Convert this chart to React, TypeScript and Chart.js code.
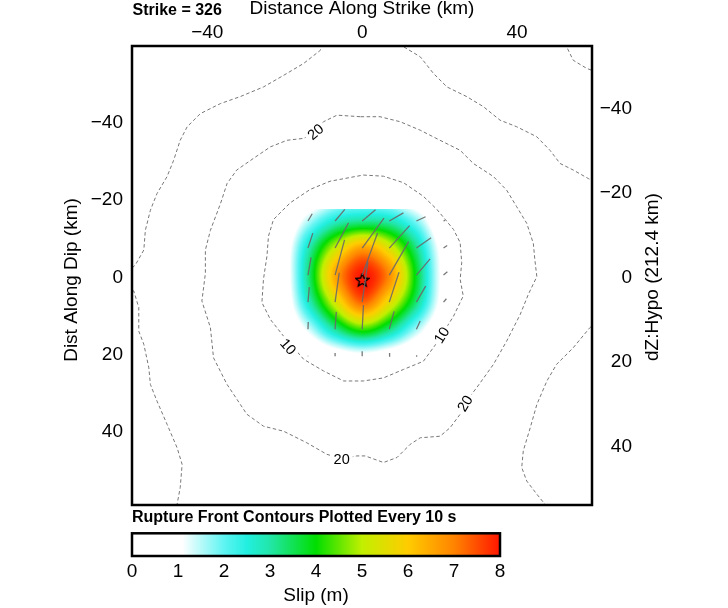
import React, { useEffect, useRef } from 'react';
import { Chart, registerables } from 'chart.js';

Chart.register(...registerables);

// ---------- axes ----------
const X_RANGE = [-59.45, 59.35];
const DIP_RANGE = [-59.9, 58.9];
const DEPTH_RANGE = [-54.8, 53.8];
const X_TICKS = [-40, 0, 40];
const DIP_TICKS = [-40, -20, 0, 20, 40];
const DEPTH_TICKS = [-40, -20, 0, 20, 40];
const SLIP_TICKS = [0, 1, 2, 3, 4, 5, 6, 7, 8];

// ---------- slip distribution (m) on subfault nodes (km) ----------
const SLIP_X = [-21, -14, -7, 0, 7, 14, 21];
const SLIP_Y = [-21.6, -14.6, -7.6, -0.6, 6.4, 13.4, 20.4];
const SLIP: number[][] = [
  [0.0, 0.2, 1.0, 1.3, 1.0, 0.3, 0.0],
  [0.1, 1.5, 2.7, 3.1, 2.9, 1.8, 0.3],
  [0.4, 2.8, 5.1, 6.6, 5.4, 3.2, 0.8],
  [0.4, 3.2, 6.5, 8.0, 6.9, 3.8, 0.9],
  [0.3, 2.7, 5.3, 7.3, 5.6, 3.3, 0.8],
  [0.1, 1.3, 3.1, 4.3, 3.3, 1.6, 0.3],
  [0.0, 0.1, 0.6, 0.9, 0.6, 0.2, 0.0],
];
const FAULT_X = [-24.5, 24.5];
const FAULT_Y = [-17.6, 23.9];

// rake (deg) for nodes SLIP_Y[1..6] x SLIP_X[1..6]
const RAKE: number[][] = [
  [60, 50, 40, 30, 25, 25],
  [72, 62, 54, 48, 35, 35],
  [80, 75, 70, 60, 50, 40],
  [85, 82, 82, 72, 60, 50],
  [88, 86, 87, 75, 65, 60],
  [90, 90, 90, 85, 80, 80],
];
const VECTOR_KM_PER_M = 1.45;

const HYPO = { x: 0, y: 0.8 };

// ---------- colour scale ----------
const SLIP_STOPS = [0, 1.1, 2, 2.5, 3, 4, 5, 6, 7, 8];
const STOP_COLORS = ['#ffffff', '#ffffff', '#5ef4f2', '#22efe0', '#22e6a8', '#00de00', '#c2ef00', '#ffcc00', '#ff8400', '#ff1600'];

// ---------- rupture-front contours (km) ----------
const CONTOUR_10: number[][] = [
  [0.3, -26.5], [5.5, -26.2], [10.7, -24.5], [15.8, -21.0], [19.3, -17.6], [23.6, -12.4], [25.3, -9.0],
  [25.7, -3.8], [25.3, 0.5], [26.1, 4.8], [23.6, 10.0], [19.3, 16.9], [15.8, 21.7], [10.7, 23.8],
  [5.5, 26.0], [0.3, 26.8], [-4.8, 26.8], [-10.0, 24.2], [-15.1, 21.2], [-20.3, 15.2], [-23.7, 10.9],
  [-25.9, 6.5], [-25.5, 0.5], [-24.6, -5.5], [-24.2, -10.7], [-22.9, -15.0], [-18.6, -19.3],
  [-13.4, -22.8], [-8.3, -24.9], [0.3, -26.5],
];
const CONTOUR_20: number[][] = [
  [-0.5, -41.6], [-6.5, -42.0], [-10.0, -40.3], [-12.1, -37.7], [-15.1, -36.0], [-19.4, -35.5],
  [-23.7, -33.8], [-28.1, -30.8], [-32.4, -27.8], [-34.9, -24.3], [-36.6, -19.1], [-39.2, -12.2],
  [-40.5, -7.1], [-40.5, -1.0], [-41.4, 6.1], [-39.2, 13.0], [-38.4, 20.8], [-34.9, 27.7],
  [-29.8, 35.4], [-25.5, 38.5], [-20.3, 39.8], [-14.3, 42.8], [-9.1, 45.8], [-5.2, 46.9],
  [-1.4, 46.2], [0.8, 46.2], [5.5, 47.9], [9.0, 46.6], [12.4, 43.2], [15.0, 41.5], [20.1, 41.1],
  [22.7, 38.9], [25.3, 35.4], [26.6, 32.4], [29.6, 28.5], [33.9, 22.5], [37.3, 16.5], [40.8, 9.6],
  [42.9, 4.4], [45.1, -0.2], [44.6, -4.5], [44.2, -8.8], [42.5, -14.0], [39.9, -18.3], [37.3, -22.6],
  [33.9, -26.1], [28.7, -29.5], [25.3, -32.9], [20.1, -35.5], [15.0, -38.1], [9.8, -40.3],
  [4.6, -41.6], [-0.5, -41.6],
];
const CONTOUR_30: number[][] = [
  [-10.3, -62.1], [-10.8, -58.8], [-15.1, -55.4], [-20.3, -52.3], [-25.5, -49.3], [-31.5, -46.8],
  [-36.6, -45.0], [-41.8, -42.4], [-45.2, -39.0], [-47.0, -35.5], [-48.7, -30.3], [-50.4, -26.1],
  [-53.0, -21.7], [-54.7, -17.4], [-56.0, -12.2], [-56.4, -7.1], [-58.6, -3.2], [-60.4, -1.6],
  [-60.4, 2.6], [-59.0, 3.5], [-57.7, 7.8], [-57.7, 13.9], [-56.4, 17.3], [-55.1, 23.4], [-54.7, 27.7],
  [-53.0, 32.0], [-50.4, 38.0], [-47.8, 44.1], [-46.5, 48.4], [-47.0, 54.4], [-47.8, 58.7],
  [-48.3, 61.3], [-0.5, 65.2], [48.5, 61.3], [47.2, 58.7], [45.1, 56.1], [42.5, 52.7], [41.2, 49.2],
  [41.6, 44.9], [43.4, 38.9], [45.1, 32.9], [47.7, 26.8], [50.2, 22.5], [54.5, 18.2], [58.8, 13.0],
  [61.4, 10.9], [61.4, -24.1], [58.4, -25.6], [54.5, -27.8], [51.1, -29.5], [48.5, -32.9],
  [45.1, -36.4], [39.9, -39.0], [35.6, -40.7], [31.3, -44.2], [27.0, -46.8], [21.9, -49.3],
  [18.4, -52.8], [15.0, -57.1], [10.7, -59.7], [9.3, -62.1], [-0.5, -64.2], [-10.3, -62.1],
];
const CONTOUR_40: number[][] = [
  [51.9, -62.1], [52.8, -59.7], [54.5, -56.2], [58.0, -54.1], [60.9, -53.0],
];

const LABEL_TEXT = ['20', '10', '10', '20', '20'];
const LABEL_X = [-12.1, -19.1, 20.5, 26.5, -5.3];
const LABEL_Y = [-37.7, 17.9, 14.9, 32.6, 47.1];
const LABEL_ANGLE = [-40, 49, -58, -60, 0];

// ---------- helpers ----------
const FONT = "'Liberation Sans', Arial, Helvetica, sans-serif";
Chart.defaults.font.family = FONT;
Chart.defaults.color = '#000';

const fmt = (v: number) => (v < 0 ? '\u2212' + Math.abs(v) : String(v));
const toPts = (arr: number[][]) => arr.map(([x, y]) => ({ x, y }));
const clamp = (v: number, a: number, b: number) => Math.max(a, Math.min(b, v));
const noPad = (s: any) => {
  s.paddingTop = 0;
  s.paddingBottom = 0;
  s.paddingLeft = 0;
  s.paddingRight = 0;
};

function cr(p0: number, p1: number, p2: number, p3: number, t: number) {
  return 0.5 * (2 * p1 + (-p0 + p2) * t + (2 * p0 - 5 * p1 + 4 * p2 - p3) * t * t + (-p0 + 3 * p1 - 3 * p2 + p3) * t * t * t);
}

function sampleSlip(xv: number, yv: number) {
  const nx = SLIP_X.length, ny = SLIP_Y.length;
  const fx = (xv - SLIP_X[0]) / (SLIP_X[1] - SLIP_X[0]);
  const fy = (yv - SLIP_Y[0]) / (SLIP_Y[1] - SLIP_Y[0]);
  const ix = Math.floor(fx), iy = Math.floor(fy);
  const tx = fx - ix, ty = fy - iy;
  const g = (r: number, c: number) => SLIP[clamp(r, 0, ny - 1)][clamp(c, 0, nx - 1)];
  const rows: number[] = [];
  for (let m = -1; m <= 2; m++) {
    rows.push(cr(g(iy + m, ix - 1), g(iy + m, ix), g(iy + m, ix + 1), g(iy + m, ix + 2), tx));
  }
  return cr(rows[0], rows[1], rows[2], rows[3], ty);
}

function hexRgb(h: string) {
  return [parseInt(h.slice(1, 3), 16), parseInt(h.slice(3, 5), 16), parseInt(h.slice(5, 7), 16)];
}
const STOP_RGB = STOP_COLORS.map(hexRgb);

function colorFor(v: number) {
  if (v <= SLIP_STOPS[0]) return STOP_RGB[0];
  for (let i = 1; i < SLIP_STOPS.length; i++) {
    if (v <= SLIP_STOPS[i]) {
      const t = (v - SLIP_STOPS[i - 1]) / (SLIP_STOPS[i] - SLIP_STOPS[i - 1]);
      const a = STOP_RGB[i - 1], b = STOP_RGB[i];
      return [a[0] + (b[0] - a[0]) * t, a[1] + (b[1] - a[1]) * t, a[2] + (b[2] - a[2]) * t];
    }
  }
  return STOP_RGB[STOP_RGB.length - 1];
}

function makeStar(size: number) {
  const c = document.createElement('canvas');
  c.width = size;
  c.height = size;
  const g = c.getContext('2d')!;
  g.beginPath();
  for (let k = 0; k < 10; k++) {
    const r = k % 2 ? size * 0.2 : size * 0.45;
    const a = -Math.PI / 2 + (k * Math.PI) / 5;
    g.lineTo(size / 2 + r * Math.cos(a), size / 2 + r * Math.sin(a));
  }
  g.closePath();
  g.lineWidth = 1.4;
  g.strokeStyle = '#000';
  g.stroke();
  return c;
}

function vectorPoints() {
  const pts: { x: number; y: number }[] = [];
  for (let j = 1; j < SLIP_Y.length; j++) {
    for (let i = 1; i < SLIP_X.length; i++) {
      const s = SLIP[j][i] * VECTOR_KM_PER_M;
      const a = (RAKE[j - 1][i - 1] * Math.PI) / 180;
      const x0 = SLIP_X[i], y0 = SLIP_Y[j];
      pts.push({ x: x0, y: y0 });
      pts.push({ x: x0 + s * Math.cos(a), y: y0 - s * Math.sin(a) });
      pts.push({ x: NaN, y: NaN });
    }
  }
  return pts;
}

// ---------- plugins ----------
const slipFieldPlugin = {
  id: 'slipField',
  beforeDatasetsDraw(chart: any) {
    const { ctx, chartArea, scales } = chart;
    const xs = scales.x, ys = scales.y;
    const px0 = Math.max(chartArea.left, Math.floor(xs.getPixelForValue(FAULT_X[0])));
    const px1 = Math.min(chartArea.right, Math.ceil(xs.getPixelForValue(FAULT_X[1])));
    const py0 = Math.max(chartArea.top, Math.floor(ys.getPixelForValue(FAULT_Y[0])));
    const py1 = Math.min(chartArea.bottom, Math.ceil(ys.getPixelForValue(FAULT_Y[1])));
    const w = px1 - px0, h = py1 - py0;
    if (w <= 0 || h <= 0) return;
    const off = document.createElement('canvas');
    off.width = w;
    off.height = h;
    const octx = off.getContext('2d')!;
    const img = octx.createImageData(w, h);
    for (let r = 0; r < h; r++) {
      const yv = ys.getValueForPixel(py0 + r + 0.5);
      for (let c = 0; c < w; c++) {
        const xv = xs.getValueForPixel(px0 + c + 0.5);
        const v = sampleSlip(xv, yv);
        const col = colorFor(v);
        const k = (r * w + c) * 4;
        img.data[k] = col[0];
        img.data[k + 1] = col[1];
        img.data[k + 2] = col[2];
        img.data[k + 3] = v < SLIP_STOPS[1] ? 0 : 255;
      }
    }
    octx.putImageData(img, 0, 0);
    ctx.save();
    ctx.drawImage(off, px0, py0);
    ctx.restore();
  },
};

const contourLabelPlugin = {
  id: 'contourLabels',
  afterDatasetsDraw(chart: any) {
    const { ctx, scales } = chart;
    ctx.save();
    ctx.font = `14.5px ${FONT}`;
    ctx.textAlign = 'center';
    ctx.textBaseline = 'middle';
    LABEL_TEXT.forEach((t, i) => {
      const px = scales.x.getPixelForValue(LABEL_X[i]);
      const py = scales.y.getPixelForValue(LABEL_Y[i]);
      ctx.save();
      ctx.translate(px, py);
      ctx.rotate((LABEL_ANGLE[i] * Math.PI) / 180);
      const w = ctx.measureText(t).width;
      ctx.fillStyle = '#fff';
      ctx.fillRect(-w / 2 - 3, -7, w + 6, 14);
      ctx.fillStyle = '#000';
      ctx.fillText(t, 0, 1);
      ctx.restore();
    });
    ctx.restore();
  },
};

const framePlugin = {
  id: 'frameTitles',
  afterDraw(chart: any) {
    const { ctx, chartArea } = chart;
    const { left, right, top, bottom } = chartArea;
    ctx.save();
    ctx.strokeStyle = '#000';
    ctx.lineWidth = 2.5;
    ctx.strokeRect(left, top, right - left, bottom - top);

    ctx.fillStyle = '#000';
    ctx.font = `19px ${FONT}`;
    ctx.textAlign = 'center';
    ctx.textBaseline = 'alphabetic';
    ctx.fillText('Distance Along Strike (km)', (left + right) / 2, 13.5);

    ctx.font = `bold 16px ${FONT}`;
    ctx.textAlign = 'left';
    ctx.fillText('Strike = 326', left + 0.5, 15);

    ctx.font = `19px ${FONT}`;
    ctx.textAlign = 'center';
    ctx.textBaseline = 'middle';
    ctx.save();
    ctx.translate(72, 280);
    ctx.rotate(-Math.PI / 2);
    ctx.fillText('Dist Along Dip (km)', 0, 0);
    ctx.restore();
    ctx.save();
    ctx.translate(653, 277);
    ctx.rotate(-Math.PI / 2);
    ctx.fillText('dZ:Hypo (212.4 km)', 0, 0);
    ctx.restore();
    ctx.restore();
  },
};

const colorbarPlugin = {
  id: 'colorbar',
  beforeDatasetsDraw(chart: any) {
    const { ctx, chartArea, scales } = chart;
    const { left, right, top, bottom } = chartArea;
    const grad = ctx.createLinearGradient(left, 0, right, 0);
    SLIP_STOPS.forEach((v, i) => {
      const p = (scales.x.getPixelForValue(v) - left) / (right - left);
      grad.addColorStop(clamp(p, 0, 1), STOP_COLORS[i]);
    });
    ctx.save();
    ctx.fillStyle = grad;
    ctx.fillRect(left, top, right - left, bottom - top);
    ctx.strokeStyle = '#000';
    ctx.lineWidth = 2.5;
    ctx.strokeRect(left, top, right - left, bottom - top);
    ctx.restore();
  },
};

const tickFont = { size: 19, family: FONT };

export default function App() {
  const mainRef = useRef<HTMLCanvasElement>(null);
  const barRef = useRef<HTMLCanvasElement>(null);

  useEffect(() => {
    const dash = {
      showLine: true,
      borderColor: '#777777',
      borderWidth: 1,
      borderDash: [3.5, 2.5],
      pointRadius: 0,
      fill: false,
      tension: 0,
    };
    const main = new Chart(mainRef.current!, {
      type: 'scatter',
      data: {
        datasets: [
          { label: '10 s', data: toPts(CONTOUR_10), ...dash },
          { label: '20 s', data: toPts(CONTOUR_20), ...dash },
          { label: '30 s', data: toPts(CONTOUR_30), ...dash },
          { label: '40 s', data: toPts(CONTOUR_40), ...dash },
          {
            label: 'slip vectors',
            data: vectorPoints(),
            showLine: true,
            spanGaps: false,
            borderColor: 'rgba(105,105,105,0.9)',
            borderWidth: 1.3,
            pointRadius: 0,
          },
          {
            label: 'hypocenter',
            data: [HYPO],
            showLine: false,
            pointStyle: makeStar(15),
            pointRadius: 7,
          },
        ] as any,
      },
      options: {
        responsive: false,
        animation: false,
        devicePixelRatio: 1,
        layout: { autoPadding: false, padding: { left: 0, right: 96, top: 0, bottom: 3 } },
        plugins: { legend: { display: false }, tooltip: { enabled: false } },
        events: [],
        scales: {
          x: {
            type: 'linear',
            position: 'top',
            min: X_RANGE[0],
            max: X_RANGE[1],
            grid: { display: false, drawTicks: false },
            border: { display: false },
            ticks: { font: tickFont, padding: 2, color: '#000', callback: (v: any) => fmt(Number(v)), maxRotation: 0 },
            afterBuildTicks: (s: any) => { s.ticks = X_TICKS.map((value) => ({ value })); },
            afterFit: (s: any) => { s.height = 46; noPad(s); },
          },
          y: {
            type: 'linear',
            position: 'left',
            reverse: true,
            min: DIP_RANGE[0],
            max: DIP_RANGE[1],
            grid: { display: false, drawTicks: false },
            border: { display: false },
            ticks: { font: tickFont, padding: 9, color: '#000', callback: (v: any) => fmt(Number(v)) },
            afterBuildTicks: (s: any) => { s.ticks = DIP_TICKS.map((value) => ({ value })); },
            afterFit: (s: any) => { s.width = 132; noPad(s); },
          },
          y2: {
            type: 'linear',
            position: 'right',
            reverse: true,
            min: DEPTH_RANGE[0],
            max: DEPTH_RANGE[1],
            grid: { display: false, drawTicks: false },
            border: { display: false },
            ticks: { font: tickFont, padding: 8, color: '#000', crossAlign: 'far', callback: (v: any) => fmt(Number(v)) },
            afterBuildTicks: (s: any) => { s.ticks = DEPTH_TICKS.map((value) => ({ value })); },
            afterFit: (s: any) => { s.width = 40; noPad(s); },
          },
        },
      } as any,
      plugins: [slipFieldPlugin, contourLabelPlugin, framePlugin],
    });

    const bar = new Chart(barRef.current!, {
      type: 'scatter',
      data: { datasets: [{ label: 'slip', data: [] }] },
      options: {
        responsive: false,
        animation: false,
        devicePixelRatio: 1,
        events: [],
        layout: { autoPadding: false, padding: { left: 132, right: 228, top: 0, bottom: 0 } },
        plugins: {
          legend: { display: false },
          tooltip: { enabled: false },
          title: {
            display: true,
            text: 'Rupture Front Contours Plotted Every 10 s',
            align: 'start',
            color: '#000',
            font: { size: 16, weight: 'bold', family: FONT },
            padding: { top: 0, bottom: 6.1 },
          },
        },
        scales: {
          x: {
            type: 'linear',
            position: 'bottom',
            min: SLIP_TICKS[0],
            max: SLIP_TICKS[SLIP_TICKS.length - 1],
            grid: { display: false, drawTicks: false },
            border: { display: false },
            ticks: { font: tickFont, padding: 4.3, color: '#000', maxRotation: 0 },
            afterBuildTicks: (s: any) => { s.ticks = SLIP_TICKS.map((value) => ({ value })); },
            title: { display: true, text: 'Slip (m)', font: tickFont, color: '#000', padding: { top: 0, bottom: 1 } },
            afterFit: (s: any) => { s.height = 52; noPad(s); },
          },
          y: { display: false, min: 0, max: 1 },
        },
      } as any,
      plugins: [colorbarPlugin],
    });

    return () => {
      main.destroy();
      bar.destroy();
    };
  }, []);

  return (
    <div style={{ position: 'fixed', left: 0, top: 0, width: 728, height: 608, background: '#fff', overflow: 'hidden' }}>
      <div style={{ position: 'absolute', left: 0, top: 0, width: 728, height: 508 }}>
        <canvas ref={mainRef} width={728} height={508} style={{ display: 'block' }} />
      </div>
      <div style={{ position: 'absolute', left: 0, top: 508, width: 728, height: 100 }}>
        <canvas ref={barRef} width={728} height={100} style={{ display: 'block' }} />
      </div>
    </div>
  );
}
